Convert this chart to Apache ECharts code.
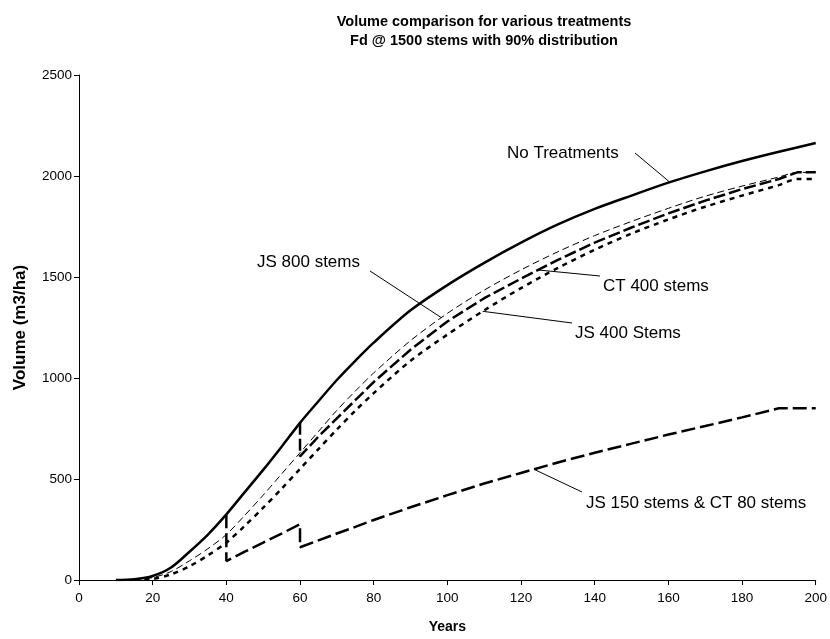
<!DOCTYPE html>
<html>
<head>
<meta charset="utf-8">
<script src="https://cdn.jsdelivr.net/npm/echarts@6/dist/echarts.min.js"></script>
<style>
  html, body { margin: 0; padding: 0; background: #fff; }
  #chart { width: 830px; height: 639px; }
</style>
</head>
<body>
<div id="chart"></div>
<script>
// ---- Data ----
const titleLines = ['Volume comparison for various treatments', 'Fd @ 1500 stems with 90% distribution'];
const xTicks = [0, 20, 40, 60, 80, 100, 120, 140, 160, 180, 200];
const yTicks = [0, 500, 1000, 1500, 2000, 2500];

const yearsNT = [10,15,20,25,30,35,40,45,50,55,60,65,70,75,80,90,100,110,120,130,140,150,160,170,180,190,200];
const noTreat = [0,4,20,62,140,225,325,435,545,660,778,885,990,1085,1175,1335,1460,1570,1670,1760,1837,1903,1967,2023,2074,2120,2163];

const yearsJS800 = [15,20,25,30,35,40,45,50,55,60,65,70,75,80,90,100,110,120,130,140,150,160,170,180,190,195,200];
const js800 = [3,12,42,95,155,225,320,420,525,630,735,840,935,1025,1185,1320,1435,1535,1625,1705,1775,1840,1900,1950,1995,2018,2018];

const yearsCT400 = [60,60,65,70,75,80,90,100,110,120,130,140,150,160,170,180,190,195,200];
const ct400 = [778,612,710,800,890,980,1140,1280,1395,1492,1585,1670,1745,1815,1878,1935,1985,2018,2018];

const yearsJS400 = [15,20,25,30,35,40,45,50,55,60,65,70,75,80,90,100,110,120,130,140,150,160,170,180,190,195,200];
const js400 = [1,5,28,68,122,185,268,358,452,550,648,745,838,925,1085,1215,1335,1445,1545,1635,1715,1785,1848,1903,1955,1985,1985];

const yearsJS150 = [40,40,45,50,55,60,60,65,70,75,80,90,100,110,120,130,140,150,160,170,180,190,200];
const js150 = [325,94,140,185,230,276,162,196,230,263,297,360,420,478,530,582,630,675,720,762,805,850,850];

// annotation labels: text, series it points at, year on the curve
const annTexts = ['No Treatments', 'JS 800 stems', 'CT 400 stems', 'JS 400 Stems', 'JS 150 stems & CT 80 stems'];
const annSeries = [0, 1, 2, 3, 4];
const annYears = [160.4, 98.4, 124.6, 109.6, 123.5];

// ---- Helpers ----
function pairs(xs, ys) { return xs.map((x, i) => [x, ys[i]]); }
function interp(xs, ys, x) {
  for (let i = 0; i < xs.length - 1; i++) {
    if (x >= xs[i] && x <= xs[i + 1] && xs[i + 1] !== xs[i]) {
      return ys[i] + (ys[i + 1] - ys[i]) * (x - xs[i]) / (xs[i + 1] - xs[i]);
    }
  }
  return ys[ys.length - 1];
}
const seriesXs = [yearsNT, yearsJS800, yearsCT400, yearsJS400, yearsJS150];
const seriesYs = [noTreat, js800, ct400, js400, js150];

// layout (pixels)
const annLayout = [
  { tx: 507, ty: 153, ex: 635, ey: 153 },
  { tx: 257, ty: 262, ex: 370, ey: 271 },
  { tx: 603, ty: 286, ex: 600, ey: 276 },
  { tx: 575, ty: 333, ex: 572, ey: 323 },
  { tx: 586, ty: 503, ex: 582, ey: 492 }
];

const FONT = '"Liberation Sans", Arial, Helvetica, sans-serif';
const chart = echarts.init(document.getElementById('chart'), null, { renderer: 'canvas' });

function mk(name, xs, ys, width, type, smooth) {
  return {
    name: name, type: 'line', data: pairs(xs, ys), showSymbol: false, symbol: 'none',
    smooth: smooth, animation: false,
    lineStyle: { color: '#000', width: width, type: type, cap: 'butt' },
    z: 3
  };
}

chart.setOption({
  animation: false,
  backgroundColor: '#fff',
  grid: { left: 79, right: 14, top: 75, bottom: 58, containLabel: false },
  xAxis: {
    type: 'value', min: 0, max: 200, interval: 20,
    name: 'Years', nameLocation: 'middle', nameGap: 40,
    nameTextStyle: { fontFamily: FONT, fontWeight: 'bold', fontSize: 14, color: '#000' },
    axisLine: { show: true, onZero: false, lineStyle: { color: '#000', width: 1 } },
    axisTick: { show: true, inside: false, length: 5, lineStyle: { color: '#000' } },
    axisLabel: { fontFamily: FONT, fontSize: 13.5, color: '#000', margin: 11,
                 formatter: v => String(v) },
    splitLine: { show: false }
  },
  yAxis: {
    type: 'value', min: 0, max: 2500, interval: 500,
    name: 'Volume (m3/ha)', nameLocation: 'middle', nameGap: 50, nameRotate: 90,
    nameTextStyle: { fontFamily: FONT, fontWeight: 'bold', fontSize: 17, color: '#000' },
    axisLine: { show: true, lineStyle: { color: '#000', width: 1 } },
    axisTick: { show: true, inside: false, length: 5, lineStyle: { color: '#000' } },
    axisLabel: { fontFamily: FONT, fontSize: 13.5, color: '#000', margin: 7,
                 formatter: v => String(v) },
    splitLine: { show: false }
  },
  series: [
    mk('No Treatments', yearsNT, noTreat, 2.5, 'solid', 0.3),
    mk('JS 800 stems', yearsJS800, js800, 1, [7, 4], 0.3),
    mk('CT 400 stems', yearsCT400, ct400, 2.5, [12, 4], false),
    mk('JS 400 Stems', yearsJS400, js400, 2.5, [5, 5], 0.3),
    mk('JS 150 stems & CT 80 stems', yearsJS150, js150, 2.5, [14, 5], false)
  ]
});

const graphics = [];
titleLines.forEach((t, i) => {
  graphics.push({
    type: 'text', x: 484, y: 22 + i * 19, silent: true,
    style: { text: t, fontFamily: FONT, fontWeight: 'bold', fontSize: 14.5, fill: '#000',
             textAlign: 'center', textVerticalAlign: 'middle' }
  });
});
annTexts.forEach((t, i) => {
  const s = annSeries[i];
  const yr = annYears[i];
  const v = interp(seriesXs[s], seriesYs[s], yr);
  const p = chart.convertToPixel({ gridIndex: 0 }, [yr, v]);
  const L = annLayout[i];
  graphics.push({
    type: 'line', silent: true,
    shape: { x1: p[0], y1: p[1], x2: L.ex, y2: L.ey },
    style: { stroke: '#000', lineWidth: 1 }, z: 10
  });
  graphics.push({
    type: 'text', x: L.tx, y: L.ty, silent: true,
    style: { text: t, fontFamily: FONT, fontSize: 17, fill: '#000',
             textAlign: 'left', textVerticalAlign: 'middle' }, z: 10
  });
});
chart.setOption({ graphic: graphics });
</script>
</body>
</html>
